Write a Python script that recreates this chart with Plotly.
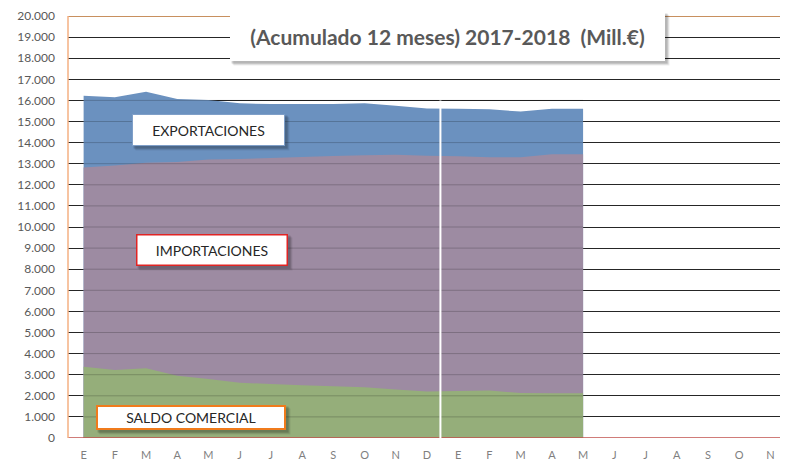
import plotly.graph_objects as go

# ---------------- data ----------------
month_labels = ["E", "F", "M", "A", "M", "J", "J", "A", "S", "O", "N", "D",
                "E", "F", "M", "A", "M", "J", "J", "A", "S", "O", "N"]
exportaciones = [16220, 16150, 16410, 16070, 16020, 15860, 15830, 15830, 15830,
                 15860, 15750, 15620, 15600, 15580, 15470, 15600, 15600]
importaciones = [12820, 12920, 13050, 13080, 13200, 13220, 13270, 13320, 13360,
                 13400, 13420, 13380, 13350, 13300, 13300, 13450, 13450]
saldo_comercial = [3380, 3220, 3300, 2950, 2800, 2620, 2560, 2500, 2450,
                   2400, 2300, 2200, 2230, 2250, 2130, 2120, 2120]
y_ticks = list(range(0, 20001, 1000))
title_text = "(Acumulado 12 meses) 2017-2018  (Mill.€)"

# ---------------- layout helpers ----------------
# the page body adds an 8px offset, so the figure is sized to fill the rest
OFF = 8
W, H = 788 - OFF, 463 - OFF
L, R, T, B = 68 - OFF, 2, 16 - OFF, 25
PW, PH = W - L - R, H - T - B


def px(x):
    return (x - OFF - L) / PW


def py(y):
    return 1 - (y - OFF - T) / PH


FONT = "Lato, Carlito, Calibri, sans-serif"
idx = list(range(len(exportaciones)))

fig = go.Figure()
fig.add_trace(go.Scatter(x=idx, y=exportaciones, mode="none", fill="tozeroy",
                         fillcolor="#6b91bf", name="EXPORTACIONES", hoverinfo="y"))
fig.add_trace(go.Scatter(x=idx, y=importaciones, mode="none", fill="tozeroy",
                         fillcolor="#9d8ba2", name="IMPORTACIONES", hoverinfo="y"))
fig.add_trace(go.Scatter(x=idx, y=saldo_comercial, mode="none", fill="tozeroy",
                         fillcolor="#95ae7a", name="SALDO COMERCIAL", hoverinfo="y"))

shapes = []
# faint gridlines visible through the filled areas
for v in y_ticks[1:17]:
    shapes.append(dict(type="line", xref="x", yref="y", x0=0, x1=len(idx) - 1,
                       y0=v, y1=v, line=dict(color="rgba(0,0,0,0.2)", width=1),
                       layer="above"))
# top border line (orange/tan)
shapes.append(dict(type="line", xref="paper", yref="y", x0=0, x1=1, y0=20000, y1=20000,
                   line=dict(color="#c8905f", width=2), layer="above"))
# bottom baseline (red)
shapes.append(dict(type="line", xref="paper", yref="y", x0=0, x1=1, y0=0, y1=0,
                   line=dict(color="#c0504d", width=1.5), layer="above"))
# left axis line (light orange)
shapes.append(dict(type="line", xref="paper", yref="paper", x0=0, x1=0, y0=0, y1=1,
                   line=dict(color="#f4b183", width=1.5), layer="above"))
# white divider between years
shapes.append(dict(type="line", xref="x", yref="y", x0=11.43, x1=11.43, y0=0, y1=16000,
                   line=dict(color="white", width=2), layer="above"))

annotations = []


def box(text, x0, x1, y0, y1, border, bw, size, color, bold=False, shadow=True):
    cx, cy = (x0 + x1) / 2, (y0 + y1) / 2
    w, h = x1 - x0, y1 - y0
    t = f"<b>{text}</b>" if bold else text
    if shadow:
        for off, a in ((4, 0.07), (3, 0.10), (2, 0.14)):
            annotations.append(dict(x=px(cx), y=py(cy), xref="paper", yref="paper",
                                    xanchor="center", yanchor="middle",
                                    text="", showarrow=False, width=w, height=h,
                                    bgcolor=f"rgba(0,0,0,{a})", borderpad=0,
                                    xshift=off, yshift=-off))
    annotations.append(dict(x=px(cx), y=py(cy), xref="paper", yref="paper",
                            xanchor="center", yanchor="middle",
                            text=t, showarrow=False, width=w - 2 * bw, height=h - 2 * bw,
                            bgcolor="white", bordercolor=border, borderwidth=bw,
                            borderpad=0, align="center", valign="middle",
                            font=dict(family=FONT, size=size, color=color)))


box(title_text, 230, 665, 12, 61, "white", 0, 21, "#595959", bold=True)
box("EXPORTACIONES", 132, 285, 114, 146, "#7f9fc8", 1, 14, "#262626")
box("IMPORTACIONES", 136, 288, 234, 266, "#e02424", 1.5, 14, "#262626")
box("SALDO COMERCIAL", 96, 286, 405, 430, "#f07b1c", 2, 14, "#262626")

fig.update_layout(
    width=W, height=H,
    margin=dict(l=L, r=R, t=T, b=B, pad=0, autoexpand=False),
    paper_bgcolor="white", plot_bgcolor="white",
    separators=",.",
    showlegend=False,
    shapes=shapes,
    annotations=annotations,
    font=dict(family=FONT, color="#595959"),
    xaxis=dict(range=[-0.5, len(month_labels) - 0.5],
               tickmode="array", tickvals=list(range(len(month_labels))),
               ticktext=month_labels, showgrid=False, zeroline=False,
               showline=False, ticks="", ticklabelstandoff=9,
               tickfont=dict(family=FONT, size=11, color="#7f7f7f")),
    yaxis=dict(range=[0, 20000], tickmode="array", tickvals=y_ticks,
               tickformat=",d", showgrid=True, gridcolor="#262626", gridwidth=1,
               zeroline=False, showline=False, ticks="", ticklabelstandoff=12,
               tickfont=dict(family=FONT, size=12, color="#595959")),
)

fig.write_html("out.html")
